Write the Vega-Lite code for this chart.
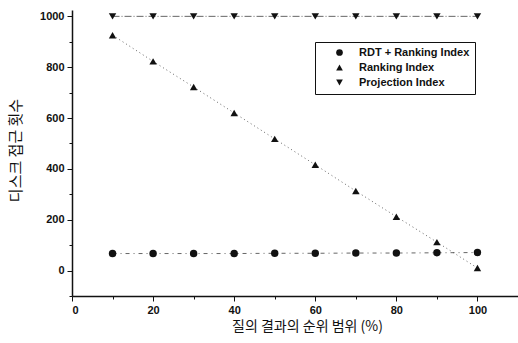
{
  "$schema": "https://vega.github.io/schema/vega-lite/v6.json",
  "width": 446,
  "height": 286,
  "autosize": "none",
  "padding": {"left": 72, "top": 10, "right": 0, "bottom": 47},
  "background": "white",
  "config": {"view": {"stroke": null}, "font": "Liberation Sans"},
  "data": {"values": [
    {"x": 10, "v": 67, "s": "RDT + Ranking Index"},
    {"x": 20, "v": 67, "s": "RDT + Ranking Index"},
    {"x": 30, "v": 67, "s": "RDT + Ranking Index"},
    {"x": 40, "v": 67, "s": "RDT + Ranking Index"},
    {"x": 50, "v": 68, "s": "RDT + Ranking Index"},
    {"x": 60, "v": 68, "s": "RDT + Ranking Index"},
    {"x": 70, "v": 69, "s": "RDT + Ranking Index"},
    {"x": 80, "v": 69, "s": "RDT + Ranking Index"},
    {"x": 90, "v": 70, "s": "RDT + Ranking Index"},
    {"x": 100, "v": 71, "s": "RDT + Ranking Index"},
    {"x": 10, "v": 926, "s": "Ranking Index"},
    {"x": 20, "v": 823, "s": "Ranking Index"},
    {"x": 30, "v": 722, "s": "Ranking Index"},
    {"x": 40, "v": 620, "s": "Ranking Index"},
    {"x": 50, "v": 518, "s": "Ranking Index"},
    {"x": 60, "v": 416, "s": "Ranking Index"},
    {"x": 70, "v": 313, "s": "Ranking Index"},
    {"x": 80, "v": 212, "s": "Ranking Index"},
    {"x": 90, "v": 112, "s": "Ranking Index"},
    {"x": 100, "v": 10, "s": "Ranking Index"},
    {"x": 10, "v": 1000, "s": "Projection Index"},
    {"x": 20, "v": 1000, "s": "Projection Index"},
    {"x": 30, "v": 1000, "s": "Projection Index"},
    {"x": 40, "v": 1000, "s": "Projection Index"},
    {"x": 50, "v": 1000, "s": "Projection Index"},
    {"x": 60, "v": 1000, "s": "Projection Index"},
    {"x": 70, "v": 1000, "s": "Projection Index"},
    {"x": 80, "v": 1000, "s": "Projection Index"},
    {"x": 90, "v": 1000, "s": "Projection Index"},
    {"x": 100, "v": 1000, "s": "Projection Index"}
  ]},
  "encoding": {
    "x": {"field": "x", "type": "quantitative",
      "scale": {"domain": [0, 110], "nice": false, "zero": false},
      "axis": {"title": "질의 결과의 순위 범위 (%)", "titleFont": "Noto Sans CJK KR", "titleFontSize": 14, "titleFontWeight": "normal", "titleColor": "#111", "titlePadding": 4, "titleX": 235,
        "values": [0, 10, 20, 30, 40, 50, 60, 70, 80, 90, 100],
        "labelExpr": "datum.value % 20 === 0 ? datum.label : ''",
        "tickSize": {"condition": {"test": "datum.value % 20 === 0", "value": 5}, "value": 3},
        "labelFont": "Liberation Sans", "labelFontWeight": "bold", "labelFontSize": 11, "labelColor": "#111", "labelPadding": 3,
        "grid": false, "domainColor": "#111", "domainWidth": 1.5, "tickColor": "#111", "tickWidth": 1}},
    "y": {"field": "v", "type": "quantitative",
      "scale": {"domain": [-100, 1025], "nice": false, "zero": false},
      "axis": {"title": "디스크 접근 횟수", "titleFont": "Noto Sans CJK KR", "titleFontSize": 15, "titleFontWeight": "normal", "titleColor": "#111", "titlePadding": 16, "titleY": 140,
        "values": [-100, 0, 100, 200, 300, 400, 500, 600, 700, 800, 900, 1000],
        "format": "d",
        "labelExpr": "datum.value % 200 === 0 ? datum.label : ''",
        "tickSize": {"condition": {"test": "datum.value % 200 === 0", "value": 5}, "value": 3},
        "labelFont": "Liberation Sans", "labelFontWeight": "bold", "labelFontSize": 11, "labelColor": "#111", "labelPadding": 3,
        "grid": false, "domainColor": "#111", "domainWidth": 1.5, "tickColor": "#111", "tickWidth": 1}}
  },
  "layer": [
    {
      "mark": {"type": "line", "color": "#555", "strokeWidth": 0.9},
      "encoding": {
        "detail": {"field": "s", "type": "nominal"},
        "strokeDash": {"field": "s", "type": "nominal",
          "scale": {"domain": ["RDT + Ranking Index", "Ranking Index", "Projection Index"], "range": [[4, 4, 1, 4], [1, 3], [7, 2, 1, 2]]},
          "legend": {"title": null, "orient": "none", "legendX": 243, "legendY": 32,
            "strokeColor": "#111", "padding": 5, "labelFont": "Liberation Sans", "labelFontWeight": "bold", "labelFontSize": 11, "labelColor": "#111",
            "symbolFillColor": "#111", "symbolStrokeColor": "#111", "symbolSize": 45, "rowPadding": 2, "labelOffset": 14, "symbolOffset": 14}}
      }
    },
    {
      "mark": {"type": "point", "filled": true, "color": "#111", "opacity": 1, "size": 55},
      "encoding": {
        "shape": {"field": "s", "type": "nominal",
          "scale": {"domain": ["RDT + Ranking Index", "Ranking Index", "Projection Index"], "range": ["circle", "triangle-up", "triangle-down"]},
          "legend": {"title": null, "orient": "none", "legendX": 243, "legendY": 32,
            "strokeColor": "#111", "padding": 5, "labelFont": "Liberation Sans", "labelFontWeight": "bold", "labelFontSize": 11, "labelColor": "#111",
            "symbolFillColor": "#111", "symbolStrokeColor": "#111", "symbolSize": 45, "rowPadding": 2, "labelOffset": 14, "symbolOffset": 14}}
      }
    }
  ]
}
